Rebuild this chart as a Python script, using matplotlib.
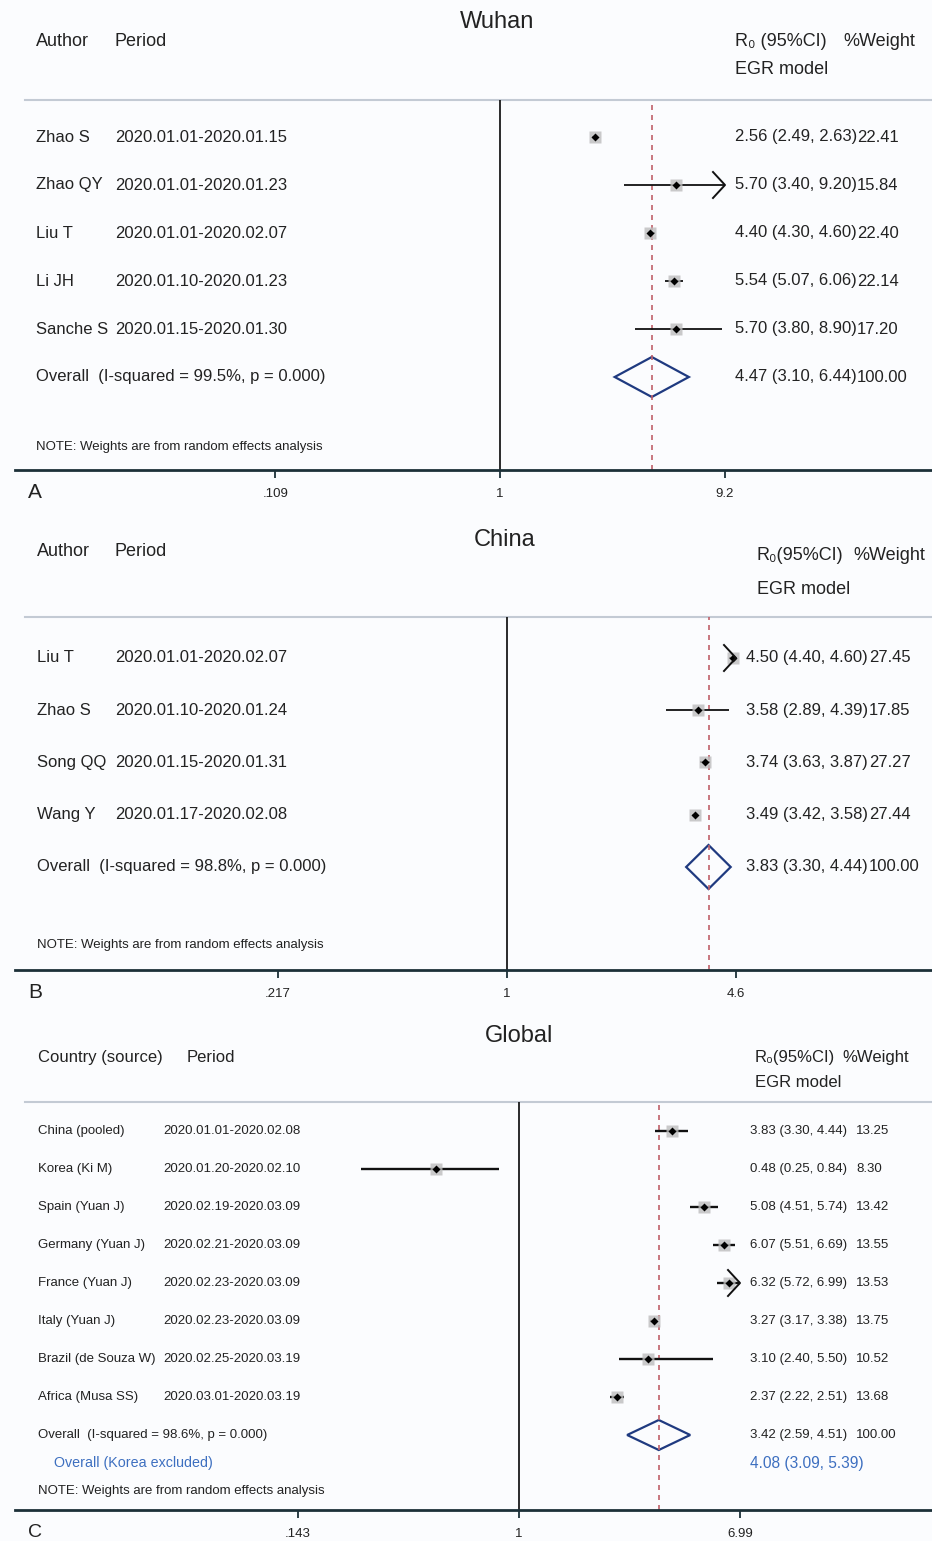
import numpy as np
import matplotlib.pyplot as plt
from matplotlib import transforms
from matplotlib.patches import Polygon

plt.rcParams['font.family'] = ['Liberation Sans', 'DejaVu Sans']

# --- Wuhan ---
wuhan_authors = ['Zhao S', 'Zhao QY', 'Liu T', 'Li JH', 'Sanche S']
wuhan_periods = ['2020.01.01-2020.01.15', '2020.01.01-2020.01.23', '2020.01.01-2020.02.07',
                 '2020.01.10-2020.01.23', '2020.01.15-2020.01.30']
wuhan_r0 = [2.56, 5.70, 4.40, 5.54, 5.70]
wuhan_lo = [2.49, 3.40, 4.30, 5.07, 3.80]
wuhan_hi = [2.63, 9.20, 4.60, 6.06, 8.90]
wuhan_weight = ['22.41', '15.84', '22.40', '22.14', '17.20']
wuhan_overall = [4.47, 3.10, 6.44]
wuhan_i2 = '99.5%'
wuhan_ticks = [0.109, 1, 9.2]
wuhan_ticklabels = ['.109', '1', '9.2']

# --- China ---
china_authors = ['Liu T', 'Zhao S', 'Song QQ', 'Wang Y']
china_periods = ['2020.01.01-2020.02.07', '2020.01.10-2020.01.24', '2020.01.15-2020.01.31',
                 '2020.01.17-2020.02.08']
china_r0 = [4.50, 3.58, 3.74, 3.49]
china_lo = [4.40, 2.89, 3.63, 3.42]
china_hi = [4.60, 4.39, 3.87, 3.58]
china_weight = ['27.45', '17.85', '27.27', '27.44']
china_overall = [3.83, 3.30, 4.44]
china_i2 = '98.8%'
china_ticks = [0.217, 1, 4.6]
china_ticklabels = ['.217', '1', '4.6']

# --- Global ---
global_countries = ['China (pooled)', 'Korea (Ki M)', 'Spain (Yuan J)', 'Germany (Yuan J)',
                    'France (Yuan J)', 'Italy (Yuan J)', 'Brazil (de Souza W)', 'Africa (Musa SS)']
global_periods = ['2020.01.01-2020.02.08', '2020.01.20-2020.02.10', '2020.02.19-2020.03.09',
                  '2020.02.21-2020.03.09', '2020.02.23-2020.03.09', '2020.02.23-2020.03.09',
                  '2020.02.25-2020.03.19', '2020.03.01-2020.03.19']
global_r0 = [3.83, 0.48, 5.08, 6.07, 6.32, 3.27, 3.10, 2.37]
global_lo = [3.30, 0.25, 4.51, 5.51, 5.72, 3.17, 2.40, 2.22]
global_hi = [4.44, 0.84, 5.74, 6.69, 6.99, 3.38, 5.50, 2.51]
global_weight = ['13.25', '8.30', '13.42', '13.55', '13.53', '13.75', '10.52', '13.68']
global_overall = [3.42, 2.59, 4.51]
global_i2 = '98.6%'
global_excl = [4.08, 3.09, 5.39]
global_ticks = [0.143, 1, 6.99]
global_ticklabels = ['.143', '1', '6.99']

W, H = 932, 1541
BG = '#fbfcfe'
TXT = '#222222'
DIAMOND = '#1f3a80'
REFLINE = '#c0606a'
BLUE = '#3d6fc0'
NOTE = 'NOTE: Weights are from random effects analysis'

fig = plt.figure(figsize=(W / 100, H / 100), dpi=100)
fig.patch.set_facecolor(BG)


def ci_text(est, lo, hi):
    return '{:.2f} ({:.2f}, {:.2f})'.format(est, lo, hi)


def forest(top, bottom, one_px, max_px, ticks, ticklabels, left=15):
    # y in data units == pixel rows of the figure, x on log scale
    ax = fig.add_axes([left / W, 1 - bottom / H, (W - left) / W, (bottom - top) / H])
    ax.set_facecolor('none')
    scale = (max_px - one_px) / np.log(ticks[-1])
    ax.set_xscale('log')
    ax.set_xlim(np.exp((left - one_px) / scale), np.exp((W - one_px) / scale))
    ax.set_ylim(bottom, top)
    for s in ['left', 'right', 'top']:
        ax.spines[s].set_visible(False)
    ax.axhline(top, xmin=10 / (W - left), color='#c3cad4', lw=1.5, clip_on=False)
    ax.spines['bottom'].set_color('#1c3038')
    ax.spines['bottom'].set_linewidth(2)
    ax.set_yticks([])
    ax.set_xticks(ticks)
    ax.set_xticklabels(ticklabels, fontsize=9.5, color=TXT)
    ax.xaxis.set_minor_locator(plt.NullLocator())
    ax.tick_params(axis='x', direction='out', length=6, width=1.3, color='#1c3038', pad=7)
    ax.axvline(1, color='#1a1a1a', lw=1.3)
    tr = transforms.blended_transform_factory(fig.transFigure, ax.transData)
    return ax, scale, tr


def draw_rows(ax, scale, est, lo, hi, ys, xmax, lw=1.3):
    for e, l, h, y in zip(est, lo, hi, ys):
        ax.plot([l, min(h, xmax)], [y, y], color='#111111', lw=lw, solid_capstyle='butt')
        ax.plot(e, y, marker='s', ms=8, color='#bdbdbd', alpha=0.8, mec='none')
        ax.plot(e, y, marker='D', ms=4.5, color='black', mec='none')
        if h >= xmax:
            back = np.exp(-12 / scale)
            ax.plot([xmax * back, xmax, xmax * back], [y - 13, y, y + 13], color='#111111', lw=1.4)


def draw_diamond(ax, est, lo, hi, y, half):
    ax.add_patch(Polygon([[lo, y], [est, y - half], [hi, y], [est, y + half]], closed=True,
                         fill=False, edgecolor=DIAMOND, lw=1.6))


def header(ax, tr, title, title_x, title_y, cols, r0_label, r0_x, r0_y, w_x, egr_y, size=13):
    ax.text(title_x / W, title_y, title, transform=tr, fontsize=17,
            ha='center', va='center', color=TXT)
    for label, x, y in cols:
        ax.text(x / W, y, label, transform=tr, fontsize=size, ha='left', va='center', color=TXT)
    ax.text(r0_x / W, r0_y, r0_label, transform=tr, fontsize=size, ha='left', va='center', color=TXT)
    ax.text(w_x / W, r0_y, '%Weight', transform=tr, fontsize=size, ha='left', va='center', color=TXT)
    ax.text(r0_x / W, egr_y, 'EGR model', transform=tr, fontsize=size, ha='left', va='center', color=TXT)


def row_text(ax, tr, y, cols, size, color=TXT):
    for x, s in cols:
        ax.text(x / W, y, s, transform=tr, fontsize=size, va='center', color=color)


# ---------------- Panel A: Wuhan ----------------
ax, scale, tr = forest(100, 470, 500, 725, wuhan_ticks, wuhan_ticklabels)
ys = [137 + 48 * i for i in range(len(wuhan_r0))]
oy = 137 + 48 * len(wuhan_r0)
ax.axvline(wuhan_overall[0], color=REFLINE, lw=1.2, ls=(0, (3, 3)))
draw_rows(ax, scale, wuhan_r0, wuhan_lo, wuhan_hi, ys, wuhan_ticks[-1])
draw_diamond(ax, *wuhan_overall, oy, 20)
for a, p, e, l, h, w, y in zip(wuhan_authors, wuhan_periods, wuhan_r0, wuhan_lo, wuhan_hi, wuhan_weight, ys):
    row_text(ax, tr, y, [(36, a), (115, p), (735, ci_text(e, l, h)), (857, w)], 12)
row_text(ax, tr, oy, [(36, 'Overall  (I-squared = {}, p = 0.000)'.format(wuhan_i2)),
                      (735, ci_text(*wuhan_overall)), (857, '100.00')], 12)
row_text(ax, tr, 447, [(36, NOTE)], 9.5)
header(ax, tr, 'Wuhan', 497, 22, [('Author', 36, 41), ('Period', 115, 41)],
       'R\u2080 (95%CI)', 735, 41, 843, 70)
ax.text(28 / W, 493, 'A', transform=tr, fontsize=15, va='center', color=TXT)

# ---------------- Panel B: China ----------------
ax, scale, tr = forest(617, 970, 507, 736, china_ticks, china_ticklabels)
ys = [658 + 52.25 * i for i in range(len(china_r0))]
oy = 658 + 52.25 * len(china_r0)
ax.axvline(china_overall[0], color=REFLINE, lw=1.2, ls=(0, (3, 3)))
draw_rows(ax, scale, china_r0, china_lo, china_hi, ys, china_ticks[-1])
draw_diamond(ax, *china_overall, oy, 22)
for a, p, e, l, h, w, y in zip(china_authors, china_periods, china_r0, china_lo, china_hi, china_weight, ys):
    row_text(ax, tr, y, [(37, a), (115, p), (746, ci_text(e, l, h)), (869, w)], 12)
row_text(ax, tr, oy, [(37, 'Overall  (I-squared = {}, p = 0.000)'.format(china_i2)),
                      (746, ci_text(*china_overall)), (869, '100.00')], 12)
row_text(ax, tr, 945, [(37, NOTE)], 9.5)
header(ax, tr, 'China', 505, 540, [('Author', 37, 552), ('Period', 115, 552)],
       'R\u2080(95%CI)', 757, 556, 853, 590)
ax.text(28 / W, 992, 'B', transform=tr, fontsize=15, va='center', color=TXT)

# ---------------- Panel C: Global ----------------
ax, scale, tr = forest(1102, 1510, 519, 740, global_ticks, global_ticklabels)
ys = [1131 + 38 * i for i in range(len(global_r0))]
oy = 1131 + 38 * len(global_r0)
ax.axvline(global_overall[0], color=REFLINE, lw=1.2, ls=(0, (3, 3)))
draw_rows(ax, scale, global_r0, global_lo, global_hi, ys, global_ticks[-1], lw=1.7)
draw_diamond(ax, *global_overall, oy, 15)
for a, p, e, l, h, w, y in zip(global_countries, global_periods, global_r0, global_lo, global_hi, global_weight, ys):
    row_text(ax, tr, y, [(38, a), (163, p), (750, ci_text(e, l, h)), (856, w)], 9.5)
row_text(ax, tr, oy, [(38, 'Overall  (I-squared = {}, p = 0.000)'.format(global_i2)),
                      (750, ci_text(*global_overall)), (856, '100.00')], 9.5)
row_text(ax, tr, 1463, [(54, 'Overall (Korea excluded)')], 10.3, color=BLUE)
row_text(ax, tr, 1463, [(750, ci_text(*global_excl))], 11.2, color=BLUE)
row_text(ax, tr, 1491, [(38, NOTE)], 9.5)
header(ax, tr, 'Global', 519, 1036, [('Country (source)', 38, 1057), ('Period', 187, 1057)],
       'R\u2080(95%CI)', 755, 1057, 842, 1082, size=12)
ax.text(28 / W, 1532, 'C', transform=tr, fontsize=14, va='center', color=TXT)

fig.savefig('out.png', dpi=100, facecolor=BG)
